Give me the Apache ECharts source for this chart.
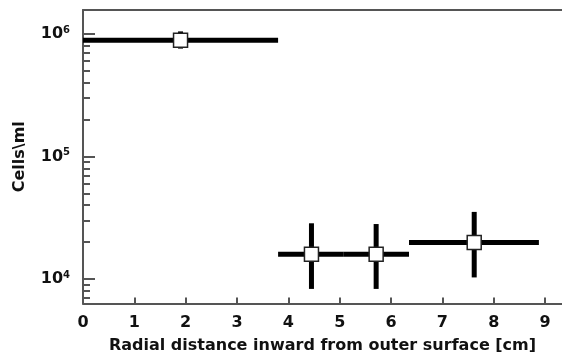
<!DOCTYPE html>
<html>
<head>
<meta charset="utf-8">
<script src="https://cdn.jsdelivr.net/npm/echarts@6/dist/echarts.min.js"></script>
<style>
  html, body { margin: 0; padding: 0; background: #fff; }
  #chart { width: 562px; height: 356px; }
</style>
</head>
<body>
<div id="chart"></div>
<script>
// data
const xCenter = [1.9, 4.45, 5.71, 7.62];
const xLow = [0, 3.8, 5.08, 6.35];
const xHigh = [3.8, 5.08, 6.35, 8.88];
const cells = [8.9e5, 1.59e4, 1.59e4, 1.99e4];
const cellsLow = [7.6e5, 8.3e3, 8.3e3, 1.03e4];
const cellsHigh = [1.05e6, 2.85e4, 2.81e4, 3.53e4];

const xTickValues = [1, 2, 3, 4, 5, 6, 7, 8, 9];
const xLabelValues = [0, 1, 2, 3, 4, 5, 6, 7, 8, 9];
const yMajorValues = [1e4, 1e5, 1e6];
const yMinorValues = [7e3, 8e3, 9e3,
  2e4, 3e4, 4e4, 5e4, 6e4, 7e4, 8e4, 9e4,
  2e5, 3e5, 4e5, 5e5, 6e5, 7e5, 8e5, 9e5];

const FONT = 'DejaVu Sans';
const AXIS_COLOR = '#555';
const X_MIN = 0, X_MAX = 9.33;
const Y_MIN = 6310, Y_MAX = 1.57e6;

const chart = echarts.init(document.getElementById('chart'), null, { renderer: 'canvas' });

const barData = xCenter.map((x, i) => [x, cells[i], xLow[i], xHigh[i], cellsLow[i], cellsHigh[i]]);

function renderBars(params, api) {
  const x = api.value(0), y = api.value(1);
  const l = api.coord([api.value(2), y]);
  const r = api.coord([api.value(3), y]);
  const t = api.coord([x, api.value(5)]);
  const b = api.coord([x, api.value(4)]);
  const style = { stroke: '#000', lineWidth: 5 };
  return {
    type: 'group',
    children: [
      { type: 'line', shape: { x1: l[0], y1: l[1], x2: r[0], y2: r[1] }, style: style },
      { type: 'line', shape: { x1: t[0], y1: t[1], x2: b[0], y2: b[1] }, style: style }
    ]
  };
}

const option = {
  backgroundColor: '#ffffff',
  animation: false,
  grid: { left: 83, right: 0, top: 10, bottom: 52.5, outerBoundsMode: 'none' },
  xAxis: [{
    type: 'value',
    min: X_MIN,
    max: X_MAX,
    name: 'Radial distance inward from outer surface [cm]',
    nameLocation: 'middle',
    nameGap: 34,
    nameTextStyle: { fontFamily: FONT, fontWeight: 'bold', fontSize: 16, color: '#111' },
    axisLine: { lineStyle: { color: AXIS_COLOR, width: 2 } },
    axisTick: { inside: true, length: 6, lineStyle: { color: AXIS_COLOR, width: 2 }, customValues: xTickValues },
    axisLabel: { margin: 11, fontFamily: FONT, fontWeight: 'bold', fontSize: 16, color: '#111', customValues: xLabelValues },
    splitLine: { show: false }
  }, {
    type: 'value',
    position: 'top',
    min: X_MIN,
    max: X_MAX,
    axisLine: { lineStyle: { color: AXIS_COLOR, width: 2 } },
    axisTick: { show: false },
    axisLabel: { show: false },
    splitLine: { show: false }
  }],
  yAxis: [{
    type: 'log',
    position: 'left',
    min: Y_MIN,
    max: Y_MAX,
    name: 'Cells\\ml',
    nameLocation: 'middle',
    nameRotate: 90,
    nameGap: 55,
    nameTextStyle: { fontFamily: FONT, fontWeight: 'bold', fontSize: 16, color: '#111' },
    axisLine: { lineStyle: { color: AXIS_COLOR, width: 2 } },
    axisTick: { inside: true, length: 12, lineStyle: { color: AXIS_COLOR, width: 2 }, customValues: yMajorValues },
    axisLabel: {
      margin: 13,
      customValues: yMajorValues,
      formatter: function (v) {
        return '{b|10}{s|' + Math.round(Math.log10(v)) + '}';
      },
      rich: {
        b: { fontFamily: FONT, fontWeight: 'bold', fontSize: 16, color: '#111', lineHeight: 18 },
        s: { fontFamily: FONT, fontWeight: 'bold', fontSize: 10, color: '#111', verticalAlign: 'top', lineHeight: 12 }
      }
    },
    splitLine: { show: false }
  }, {
    type: 'log',
    position: 'left',
    min: Y_MIN,
    max: Y_MAX,
    axisLine: { show: false },
    axisTick: { inside: true, length: 7, lineStyle: { color: AXIS_COLOR, width: 2 }, customValues: yMinorValues },
    axisLabel: { show: false },
    splitLine: { show: false }
  }],
  series: [{
    type: 'custom',
    xAxisIndex: 0,
    yAxisIndex: 0,
    renderItem: renderBars,
    data: barData,
    z: 2
  }, {
    type: 'scatter',
    xAxisIndex: 0,
    yAxisIndex: 0,
    symbol: 'rect',
    symbolSize: 14,
    itemStyle: { color: '#fff', borderColor: '#222', borderWidth: 1.5, opacity: 1 },
    data: xCenter.map((x, i) => [x, cells[i]]),
    z: 3
  }]
};

chart.setOption(option);
</script>
</body>
</html>
